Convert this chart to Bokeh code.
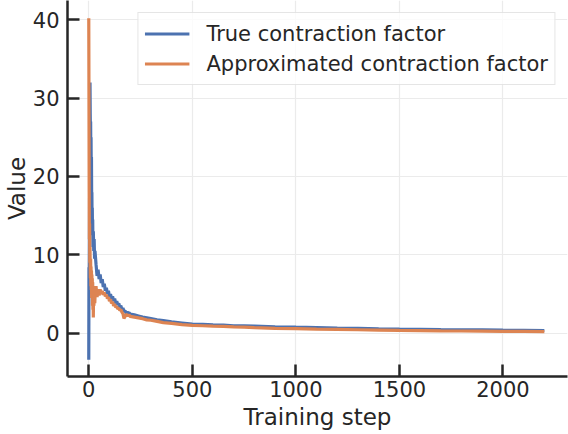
from bokeh.plotting import figure
from bokeh.models import Range1d, Legend, LegendItem, FixedTicker
from bokeh.embed import file_html
from bokeh.resources import INLINE

# ---- data ----
true_steps = [0, 1, 2, 3, 4, 5, 6, 7, 8, 9, 10, 11, 12, 13, 14, 15, 16, 17, 18, 19, 20,
              22, 24, 26, 28, 30, 35, 40, 45, 50, 55, 60, 65, 70, 75, 80, 85, 90, 95, 100,
              105, 110, 115, 120, 125, 130, 135, 140, 145, 150, 155, 160, 165, 170, 175,
              180, 185, 190, 195, 200, 220, 240, 260, 280, 300, 330, 360, 400, 450, 500,
              550, 600, 650, 700, 750, 800, 900, 1000, 1100, 1200, 1300, 1400, 1500, 1600,
              1700, 1800, 1900, 2000, 2100, 2200]
true_values = [-3.4, 8.4, 5.0, 12.0, 18.0, 26.0, 32.0, 28.0, 25.5, 27.0, 22.0, 25.0, 20.0,
               22.5, 17.0, 18.0, 14.0, 16.0, 12.5, 14.5, 11.0, 13.0, 10.5, 12.0, 9.5, 10.5,
               8.8, 7.3, 8.1, 6.9, 7.5, 6.4, 6.9, 5.9, 6.3, 5.4, 5.8, 5.0, 5.4, 4.6, 5.0,
               4.4, 4.7, 4.1, 4.4, 3.8, 4.1, 3.6, 3.8, 3.3, 3.5, 3.0, 3.2, 2.8, 2.9, 2.55,
               2.7, 2.55, 2.6, 2.45, 2.35, 2.2, 2.05, 1.95, 1.85, 1.7, 1.6, 1.45, 1.3, 1.15,
               1.12, 1.05, 1.02, 0.95, 0.93, 0.9, 0.82, 0.76, 0.72, 0.66, 0.62, 0.56, 0.52,
               0.5, 0.46, 0.43, 0.41, 0.38, 0.36, 0.34]

approx_steps = [0, 1, 2, 3, 4, 5, 6, 7, 8, 9, 10, 11, 12, 13, 14, 15, 16, 17, 18, 19, 20,
                21, 22, 23, 24, 25, 26, 27, 28, 29, 30, 35, 40, 45, 50, 55, 60, 65, 70, 75,
                80, 85, 90, 95, 100, 105, 110, 115, 120, 125, 130, 135, 140, 145, 150, 155,
                160, 165, 170, 175, 180, 185, 190, 195, 200, 220, 240, 260, 280, 300, 330,
                360, 400, 450, 500, 550, 600, 650, 700, 750, 800, 900, 1000, 1100, 1200,
                1300, 1400, 1500, 1600, 1700, 1800, 1900, 2000, 2100, 2200]
approx_values = [40.2, 30.0, 18.0, 12.0, 14.0, 9.0, 11.0, 8.5, 7.0, 9.5, 6.0, 8.5, 5.5, 8.0,
                 4.5, 7.5, 5.0, 7.0, 3.5, 6.5, 3.0, 5.5, 2.0, 4.5, 5.5, 3.5, 6.0, 4.0, 5.5,
                 3.8, 4.5, 6.0, 4.6, 5.6, 4.8, 5.6, 5.0, 5.4, 4.9, 5.2, 4.7, 4.9, 4.4, 4.6,
                 4.1, 4.3, 3.8, 4.0, 3.5, 3.7, 3.3, 3.4, 3.1, 3.2, 2.9, 3.0, 2.7, 2.5, 1.9,
                 2.1, 2.4, 2.3, 2.25, 2.3, 2.15, 2.05, 1.95, 1.85, 1.7, 1.65, 1.5, 1.35, 1.25,
                 1.1, 1.0, 0.95, 0.9, 0.86, 0.8, 0.76, 0.7, 0.62, 0.58, 0.52, 0.48, 0.44, 0.4,
                 0.36, 0.33, 0.3, 0.28, 0.26, 0.24, 0.22, 0.2]

x_ticks = [0, 500, 1000, 1500, 2000]
y_ticks = [0, 10, 20, 30, 40]
x_title = "Training step"
y_title = "Value"

TEXT = "#262626"
FONT = "DejaVu Sans"

p = figure(width=568, height=434, output_backend="svg", toolbar_location=None,
           x_range=Range1d(-102.7, 2311.8), y_range=Range1d(-5.53, 42.46),
           min_border_left=66, min_border_right=1, min_border_top=0, min_border_bottom=58)
p.outline_line_color = None
p.background_fill_color = "white"

r_true = p.line(true_steps, true_values, line_color="#4C72B0", line_width=3.2)
r_approx = p.line(approx_steps, approx_values, line_color="#DD8452", line_width=3.2)

for ax, ticks in ((p.xaxis[0], x_ticks), (p.yaxis[0], y_ticks)):
    ax.ticker = FixedTicker(ticks=ticks)
    ax.major_label_text_font = FONT
    ax.major_label_text_font_size = "21px"
    ax.major_label_text_color = TEXT
    ax.axis_label_text_font = FONT
    ax.axis_label_text_font_size = "23px"
    ax.axis_label_text_font_style = "normal"
    ax.axis_label_text_color = TEXT
    ax.axis_line_color = TEXT
    ax.axis_line_width = 2.5
    ax.major_tick_line_color = TEXT
    ax.major_tick_line_width = 2.5
    ax.major_tick_in = 12
    ax.major_tick_out = 0
    ax.minor_tick_line_color = None

p.xaxis.axis_label = x_title
p.yaxis.axis_label = y_title
p.xaxis.major_label_standoff = 4
p.xaxis.axis_label_standoff = 4
p.yaxis.major_label_standoff = 8
p.yaxis.axis_label_standoff = 0

p.xgrid.ticker = FixedTicker(ticks=x_ticks)
p.ygrid.ticker = FixedTicker(ticks=y_ticks)
for g in (p.xgrid[0], p.ygrid[0]):
    g.grid_line_color = "#ebebeb"
    g.grid_line_width = 1.2

legend = Legend(items=[LegendItem(label="True contraction factor", renderers=[r_true]),
                       LegendItem(label="Approximated contraction factor", renderers=[r_approx])],
                location="top_right")
legend.label_text_font = FONT
legend.label_text_font_size = "21px"
legend.label_text_color = TEXT
legend.glyph_width = 45
legend.glyph_height = 29
legend.label_height = 29
legend.label_standoff = 17
legend.padding = 6
legend.spacing = 1
legend.margin = 12
legend.border_line_color = "#cccccc"
legend.border_line_width = 1.5
legend.background_fill_alpha = 0.8
p.add_layout(legend)

open("out.html", "w").write(file_html(p, INLINE))
